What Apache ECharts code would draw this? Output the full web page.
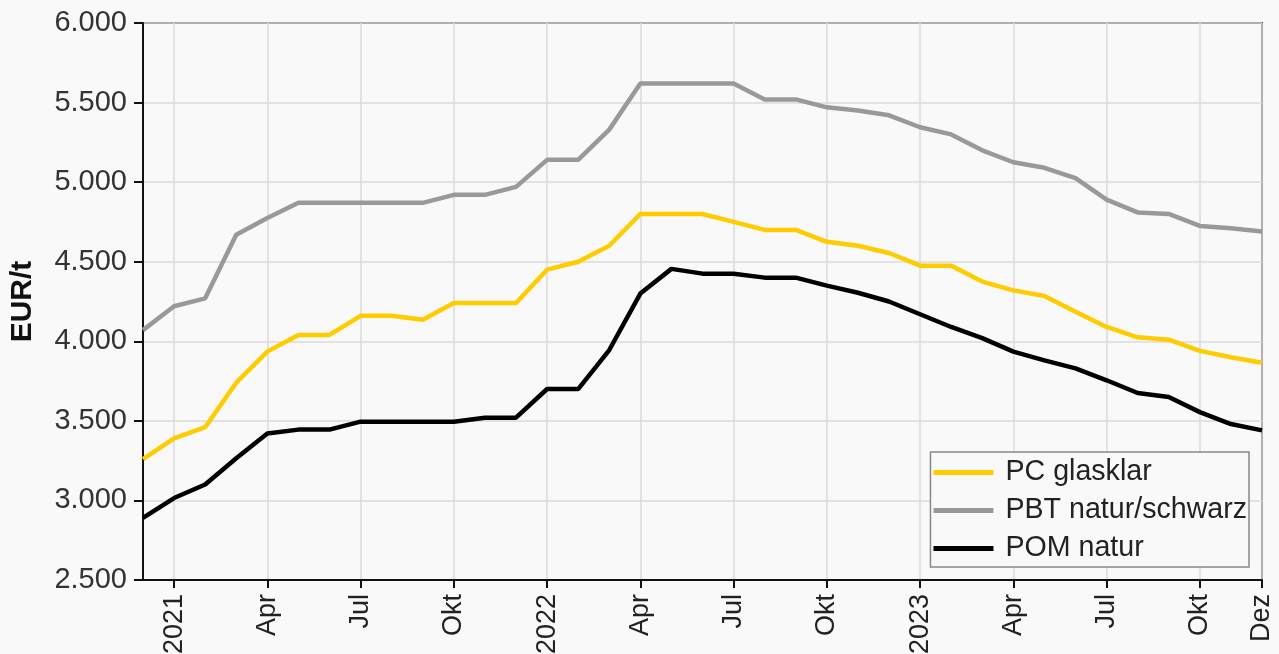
<!DOCTYPE html>
<html>
<head>
<meta charset="utf-8">
<script src="https://cdn.jsdelivr.net/npm/echarts@6/dist/echarts.min.js"></script>
<style>
  html, body { margin: 0; padding: 0; background: #f9f9f9; }
  #chart { width: 1279px; height: 654px; }
</style>
</head>
<body>
<div id="chart"></div>
<script>
// Monatswerte Dez 2020 .. Dez 2023
var months = ['Dez','2021','Feb','Mär','Apr','Mai','Jun','Jul','Aug','Sep','Okt','Nov','Dez',
              '2022','Feb','Mär','Apr','Mai','Jun','Jul','Aug','Sep','Okt','Nov','Dez',
              '2023','Feb','Mär','Apr','Mai','Jun','Jul','Aug','Sep','Okt','Nov','Dez'];
var pcGlasklar = [3260,3390,3460,3740,3935,4040,4040,4160,4160,4135,4240,4240,4240,
                  4450,4500,4600,4800,4800,4800,4750,4700,4700,4625,4600,4555,
                  4475,4475,4375,4320,4285,4185,4090,4025,4010,3940,3900,3865];
var pbtNatur = [4070,4220,4270,4670,4775,4870,4870,4870,4870,4870,4920,4920,4970,
                5140,5140,5330,5620,5620,5620,5620,5520,5520,5470,5450,5420,
                5345,5300,5200,5125,5090,5025,4890,4810,4800,4725,4710,4690];
var pomNatur = [2890,3015,3100,3265,3420,3445,3445,3495,3495,3495,3495,3520,3520,
                3700,3700,3945,4300,4455,4425,4425,4400,4400,4350,4305,4250,
                4170,4090,4020,3935,3880,3830,3755,3675,3650,3555,3480,3440];

var font = "'Liberation Sans', Arial, sans-serif";
function showIdx(i) { return i % 3 === 1 || i === months.length - 1; }

var chart = echarts.init(document.getElementById('chart'));
chart.setOption({
  backgroundColor: '#f9f9f9',
  animation: false,
  textStyle: { fontFamily: font },
  grid: {
    left: 143, right: 17, top: 23, bottom: 74,
    outerBoundsMode: 'none',
    show: true, borderColor: '#333', borderWidth: 2, backgroundColor: '#f9f9f9'
  },
  legend: {
    orient: 'vertical',
    right: 30, bottom: 87,
    padding: [6, 2, 4, 3],
    itemGap: 9,
    itemWidth: 60, itemHeight: 5,
    borderColor: '#888', borderWidth: 1.5,
    backgroundColor: '#f9f9f9',
    textStyle: { fontSize: 28.6, color: '#222', fontFamily: font, padding: [0, 0, 0, 7] },
    data: [
      { name: 'PC glasklar', icon: 'rect' },
      { name: 'PBT natur/schwarz', icon: 'rect' },
      { name: 'POM natur', icon: 'rect' }
    ]
  },
  xAxis: {
    type: 'category',
    data: months,
    boundaryGap: false,
    axisLine: { lineStyle: { color: '#111', width: 2 } },
    axisTick: { interval: function (i) { return showIdx(i); }, length: 8, lineStyle: { color: '#111', width: 2 } },
    axisLabel: {
      interval: function (i) { return showIdx(i); },
      rotate: 90, fontSize: 27, color: '#222', margin: 14, fontFamily: font
    },
    splitLine: { show: true, interval: function (i) { return showIdx(i); }, lineStyle: { color: '#dadada', width: 1.5 } }
  },
  yAxis: {
    type: 'value',
    min: 2500, max: 6000, interval: 500,
    name: 'EUR/t',
    nameLocation: 'middle',
    nameGap: 105,
    nameTextStyle: { fontSize: 30, fontWeight: 'bold', color: '#111', fontFamily: font },
    axisLine: { show: true, lineStyle: { color: '#111', width: 2 } },
    axisTick: { show: true, length: 9, lineStyle: { color: '#111', width: 2 } },
    axisLabel: {
      fontSize: 29, color: '#333', margin: 16, fontFamily: font,
      formatter: function (v) { return v.toLocaleString('de-DE'); }
    },
    splitLine: { lineStyle: { color: '#dadada', width: 1.5 } }
  },
  series: [
    { name: 'PC glasklar', type: 'line', data: pcGlasklar, symbol: 'none',
      lineStyle: { color: '#ffcc00', width: 4.5 }, itemStyle: { color: '#ffcc00' } },
    { name: 'PBT natur/schwarz', type: 'line', data: pbtNatur, symbol: 'none',
      lineStyle: { color: '#999999', width: 4.5 }, itemStyle: { color: '#999999' } },
    { name: 'POM natur', type: 'line', data: pomNatur, symbol: 'none',
      lineStyle: { color: '#000000', width: 4.5 }, itemStyle: { color: '#000000' } }
  ]
});
</script>
</body>
</html>
